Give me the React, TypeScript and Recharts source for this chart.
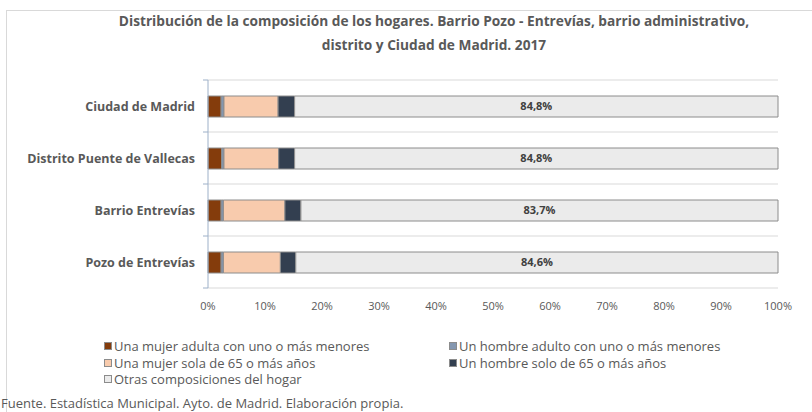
import React from "react";
import { BarChart, Bar, XAxis, YAxis, CartesianGrid, Legend, LabelList } from "recharts";

// Composición de los hogares (% sobre el total de hogares), 2017
const categories = [
  "Ciudad de Madrid",
  "Distrito Puente de Vallecas",
  "Barrio Entrevías",
  "Pozo de Entrevías",
];
const mujerAdultaMenores = [2.3, 2.4, 2.3, 2.3];
const hombreAdultoMenores = [0.5, 0.4, 0.4, 0.4];
const mujerSola65 = [9.5, 9.6, 10.8, 10.0];
const hombreSolo65 = [2.9, 2.8, 2.8, 2.7];
const otras = [84.8, 84.8, 83.7, 84.6];
const xTicks = [0, 10, 20, 30, 40, 50, 60, 70, 80, 90, 100];

const series = [
  { key: "mujerAdulta", name: "Una mujer adulta con uno o más menores", color: "#843C0C" },
  { key: "hombreAdulto", name: "Un hombre adulto con uno o más menores", color: "#8497B0" },
  { key: "mujerSola", name: "Una mujer sola de 65 o más años", color: "#F8CBAD" },
  { key: "hombreSolo", name: "Un hombre solo de 65 o más años", color: "#333F50" },
  { key: "otras", name: "Otras composiciones del hogar", color: "#EBEBEB" },
];

const data = categories.map((name, i) => ({
  name,
  mujerAdulta: mujerAdultaMenores[i],
  hombreAdulto: hombreAdultoMenores[i],
  mujerSola: mujerSola65[i],
  hombreSolo: hombreSolo65[i],
  otras: otras[i],
}));

const FONT = "'Open Sans', Lato, sans-serif";
const TEXT = "#595959";
const AXIS_BLUE = "#9DB0C8";

const W = 812;
const H = 412;
const MARGIN = { top: 80, right: 34, bottom: 104, left: 0 };
const Y_AXIS_W = 208;
const PLOT_H = H - MARGIN.top - MARGIN.bottom - 20;

const fmtPct = (v: number) => v.toFixed(1).replace(".", ",") + "%";

function CategoryTick(props: any) {
  const { x, y, payload, index } = props;
  const band = PLOT_H / categories.length;
  const axisX = x + 13;
  return (
    <g>
      <line x1={axisX - 5} x2={axisX} y1={y - band / 2} y2={y - band / 2} stroke={AXIS_BLUE} />
      {index === categories.length - 1 && (
        <line x1={axisX - 5} x2={axisX} y1={y + band / 2} y2={y + band / 2} stroke={AXIS_BLUE} />
      )}
      <text
        x={x}
        y={y}
        textAnchor="end"
        dominantBaseline="central"
        fill={TEXT}
        fontSize={12.5}
        fontWeight={700}
        fontFamily={FONT}
      >
        {payload.value}
      </text>
    </g>
  );
}

function LegendBox() {
  const rows = [
    [series[0], series[1]],
    [series[2], series[3]],
    [series[4]],
  ];
  return (
    <div style={{ fontFamily: FONT, fontSize: 13, color: TEXT, lineHeight: "16px" }}>
      {rows.map((row, r) =>
        row.map((s, c) => (
          <div
            key={s.key}
            style={{
              position: "absolute",
              left: c === 0 ? 104 : 449,
              top: r * 16.7,
              display: "flex",
              alignItems: "center",
              whiteSpace: "nowrap",
            }}
          >
            <span
              style={{
                display: "inline-block",
                width: 6,
                height: 6,
                background: s.color,
                border: "1px solid #8c8c8c",
                marginRight: 2,
              }}
            />
            {s.name}
          </div>
        ))
      )}
    </div>
  );
}

export default function App() {
  return (
    <div
      style={{
        position: "fixed",
        left: 0,
        top: 0,
        width: W,
        height: H,
        overflow: "hidden",
        background: "#fff",
        fontFamily: FONT,
      }}
    >
      <div
        style={{
          position: "absolute",
          left: 6,
          top: 10,
          width: W,
          height: H,
          border: "1px solid #d9d9d9",
        }}
      />
      <div
        style={{
          position: "absolute",
          left: 434 - 400,
          width: 800,
          top: 9,
          textAlign: "center",
          fontSize: 13.7,
          fontWeight: 700,
          color: TEXT,
          lineHeight: "24px",
        }}
      >
        Distribución de la composición de los hogares. Barrio Pozo - Entrevías, barrio administrativo,
        <br />
        distrito y Ciudad de Madrid. 2017
      </div>
      <BarChart
        width={W}
        height={H}
        data={data}
        layout="vertical"
        margin={MARGIN}
        barSize={21}
        style={{ position: "absolute", left: 0, top: 0 }}
      >
        <CartesianGrid
          vertical={false}
          stroke="#d9d9d9"
          horizontalCoordinatesGenerator={({ offset }: any) =>
            categories
              .map((_, i) => offset.top + (offset.height * i) / categories.length)
              .concat(offset.top + offset.height)
          }
        />
        <XAxis
          type="number"
          domain={[0, 100]}
          ticks={xTicks}
          tickFormatter={(v: number) => `${v}%`}
          axisLine={false}
          tickLine={false}
          height={20}
          tick={{ fill: TEXT, fontSize: 11, fontFamily: FONT }}
          tickMargin={8}
        />
        <YAxis
          type="category"
          dataKey="name"
          width={Y_AXIS_W}
          axisLine={{ stroke: AXIS_BLUE }}
          tickLine={false}
          tickSize={0}
          tickMargin={13}
          tick={<CategoryTick />}
        />
        <Legend
          layout="horizontal"
          verticalAlign="middle"
          content={() => <LegendBox />}
          wrapperStyle={{ top: 338, left: 0, width: W, height: 56 }}
        />
        {series.map((s) => (
          <Bar
            key={s.key}
            dataKey={s.key}
            name={s.name}
            stackId="a"
            fill={s.color}
            stroke="#8c8c8c"
            strokeWidth={1}
            isAnimationActive={false}
          >
            {s.key === "otras" && (
              <LabelList
                dataKey="otras"
                position="center"
                formatter={(v: number) => fmtPct(v)}
                fill="#404040"
                fontSize={11}
                fontWeight={700}
                fontFamily={FONT}
              />
            )}
          </Bar>
        ))}
      </BarChart>
      <div
        style={{
          position: "absolute",
          left: 1,
          top: 396,
          fontSize: 13,
          lineHeight: "15px",
          color: TEXT,
          whiteSpace: "nowrap",
        }}
      >
        Fuente. Estadística Municipal. Ayto. de Madrid. Elaboración propia.
      </div>
    </div>
  );
}
